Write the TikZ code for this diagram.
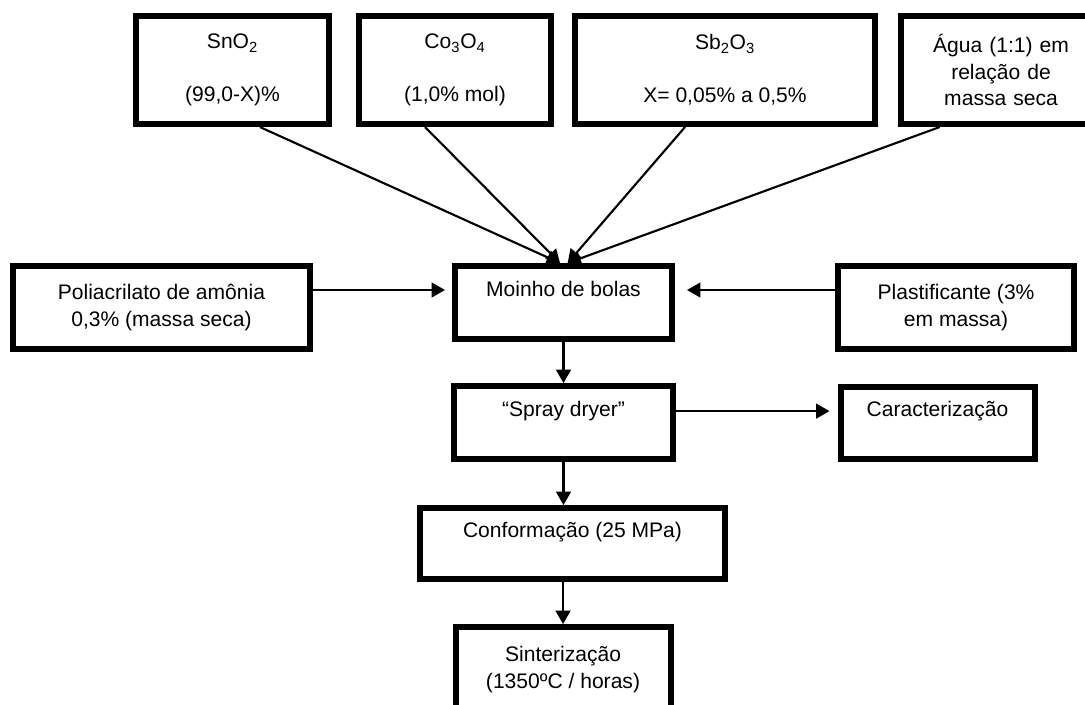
\documentclass[tikz,border=0pt]{standalone}
\usepackage{fontspec}
\setmainfont{Liberation Sans}
\usetikzlibrary{positioning,arrows.meta}

\begin{document}
\begin{tikzpicture}[
    >={Triangle[length=10pt,width=11pt]},
    node distance=30pt and 90pt,
    box/.style={
        rectangle, draw, line width=4.5pt, outer sep=2.25pt,
        align=center, inner sep=2pt,
        font=\fontsize{15.8pt}{20pt}\selectfont
    },
    feed/.style={box, minimum height=81pt},
    stage/.style={box, minimum height=54.75pt},
    edge/.style={->, line width=1.6pt},
]
\useasboundingbox (-422.6pt,-301.1pt) rectangle (391.1pt,226.9pt);

% Main line
\node[stage, minimum width=162.75pt] (moinho) at (0,0) {Moinho de bolas\\~};
\node[stage, minimum width=163.5pt, below=30.75pt of moinho] (spray) {“Spray dryer”\\~};
\node[stage, minimum width=145.5pt, minimum height=54pt, right=121.5pt of spray] (carac) {Caracterização\\~};
\node[stage, minimum width=228pt, minimum height=53.25pt, below=32.25pt of spray, xshift=6.75pt] (conf) {Conformação (25 MPa)\\~};
\node[box, minimum width=161.25pt, minimum height=80.25pt, below=31.5pt of conf, xshift=-7.1pt] (sint) {Sinterização\\(1350ºC / horas)\\~};

% Side inputs
\node[box, minimum width=222.75pt, minimum height=62.25pt, left=104.25pt of moinho, yshift=-3.75pt] (poli) {Poliacrilato de amônia\\0,3\% (massa seca)};
\node[box, minimum width=177pt, minimum height=62.25pt, right=120pt of moinho, yshift=-3.75pt] (plast) {Plastificante (3\%\\em massa)};

% Raw materials
\node[feed, minimum width=144.75pt, above left=102pt and 90pt of moinho] (sno2) {SnO\textsubscript{2}\\~\\(99,0-X)\%};
\node[feed, minimum width=144pt, right=18pt of sno2] (co3o4) {Co\textsubscript{3}O\textsubscript{4}\\~\\(1,0\% mol)};
\node[feed, minimum width=225pt, right=13.5pt of co3o4] (sb2o3) {Sb\textsubscript{2}O\textsubscript{3}\\~\\X= 0,05\% a 0,5\%};
\node[feed, minimum width=150pt, right=15pt of sb2o3, text width=140pt] (agua) {Água (1:1) em\\relação de\\massa seca};

% Edges into the mill
\draw[edge] ([xshift=20.6pt]sno2.south) -- (moinho.95);
\draw[edge] ([xshift=-22.5pt]co3o4.south) -- (moinho.95);
\draw[edge] ([xshift=-30pt]sb2o3.south) -- (moinho.84);
\draw[edge] ([xshift=-46pt]agua.south) -- (moinho.84);
\draw[edge, shorten >=5.25pt] ([yshift=13.15pt]poli.east) -- ([yshift=9.4pt]moinho.west);
\draw[edge, shorten >=9pt] ([yshift=13.15pt]plast.west) -- ([yshift=9.4pt]moinho.east);

% Process edges
\draw[edge] (moinho.south) -- (spray.north);
\draw[edge, shorten >=6pt] ([yshift=8.6pt]spray.east) -- ([yshift=8.6pt]carac.west);
\draw[edge] (spray.south) -- (spray.south |- conf.north);
\draw[edge] (sint.north |- conf.south) -- (sint.north);

\end{tikzpicture}
\end{document}
